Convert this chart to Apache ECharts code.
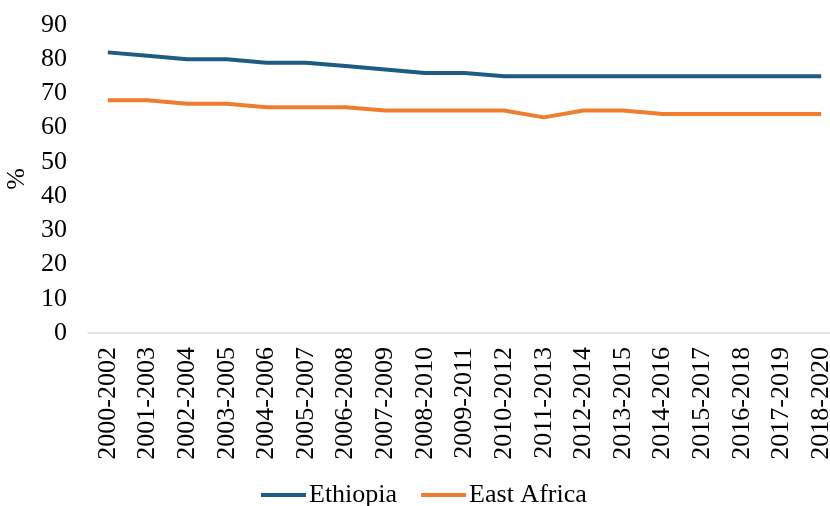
<!DOCTYPE html>
<html>
<head>
<meta charset="utf-8">
<script src="https://cdn.jsdelivr.net/npm/echarts@6/dist/echarts.min.js"></script>
<style>
  html, body { margin: 0; padding: 0; background: #ffffff; }
  #chart { width: 830px; height: 506px; }
</style>
</head>
<body>
<div id="chart"></div>
<script>
// Three-year periods on the x axis
const periods = [
  '2000-2002', '2001-2003', '2002-2004', '2003-2005', '2004-2006',
  '2005-2007', '2006-2008', '2007-2009', '2008-2010', '2009-2011',
  '2010-2012', '2011-2013', '2012-2014', '2013-2015', '2014-2016',
  '2015-2017', '2016-2018', '2017-2019', '2018-2020'
];

// Percentage values per period
const ethiopia = [82, 81, 80, 80, 79, 79, 78, 77, 76, 76, 75, 75, 75, 75, 75, 75, 75, 75, 75];
const eastAfrica = [68, 68, 67, 67, 66, 66, 66, 65, 65, 65, 65, 63, 65, 65, 64, 64, 64, 64, 64];

const yTicks = { min: 0, max: 90, interval: 10 };

const serif = '"Liberation Serif", "DejaVu Serif", serif';

const chart = echarts.init(document.getElementById('chart'));
chart.setOption({
  animation: false,
  textStyle: { fontFamily: serif },
  grid: {
    left: 88, right: -11, top: 25, bottom: 173,
    containLabel: false,
    outerBoundsMode: 'none'
  },
  legend: {
    top: 477,
    left: 256,
    itemWidth: 45,
    itemHeight: 4,
    itemGap: 24,
    icon: 'rect',
    textStyle: { fontFamily: serif, fontSize: 26, color: '#000', padding: [0, 0, 0, -2] },
    data: ['Ethiopia', 'East Africa']
  },
  xAxis: {
    type: 'category',
    data: periods,
    boundaryGap: true,
    axisLine: { lineStyle: { color: '#d9d9d9', width: 1.5 } },
    axisTick: { show: false },
    axisLabel: {
      rotate: 90,
      margin: 14,
      interval: 0,
      fontFamily: serif,
      fontSize: 26,
      color: '#000'
    },
    splitLine: { show: false }
  },
  yAxis: {
    type: 'value',
    min: yTicks.min,
    max: yTicks.max,
    interval: yTicks.interval,
    name: '%',
    nameLocation: 'middle',
    nameGap: 52,
    nameRotate: 90,
    nameTextStyle: { fontFamily: serif, fontSize: 26, color: '#000' },
    axisLine: { show: false },
    axisTick: { show: false },
    splitLine: { show: false },
    axisLabel: {
      margin: 21,
      fontFamily: serif,
      fontSize: 26,
      color: '#000'
    }
  },
  series: [
    {
      name: 'Ethiopia',
      type: 'line',
      data: ethiopia,
      symbol: 'none',
      color: '#1d5b83',
      lineStyle: { width: 4, color: '#1d5b83' }
    },
    {
      name: 'East Africa',
      type: 'line',
      data: eastAfrica,
      symbol: 'none',
      color: '#f07d2e',
      lineStyle: { width: 4, color: '#f07d2e' }
    }
  ]
});
</script>
</body>
</html>
